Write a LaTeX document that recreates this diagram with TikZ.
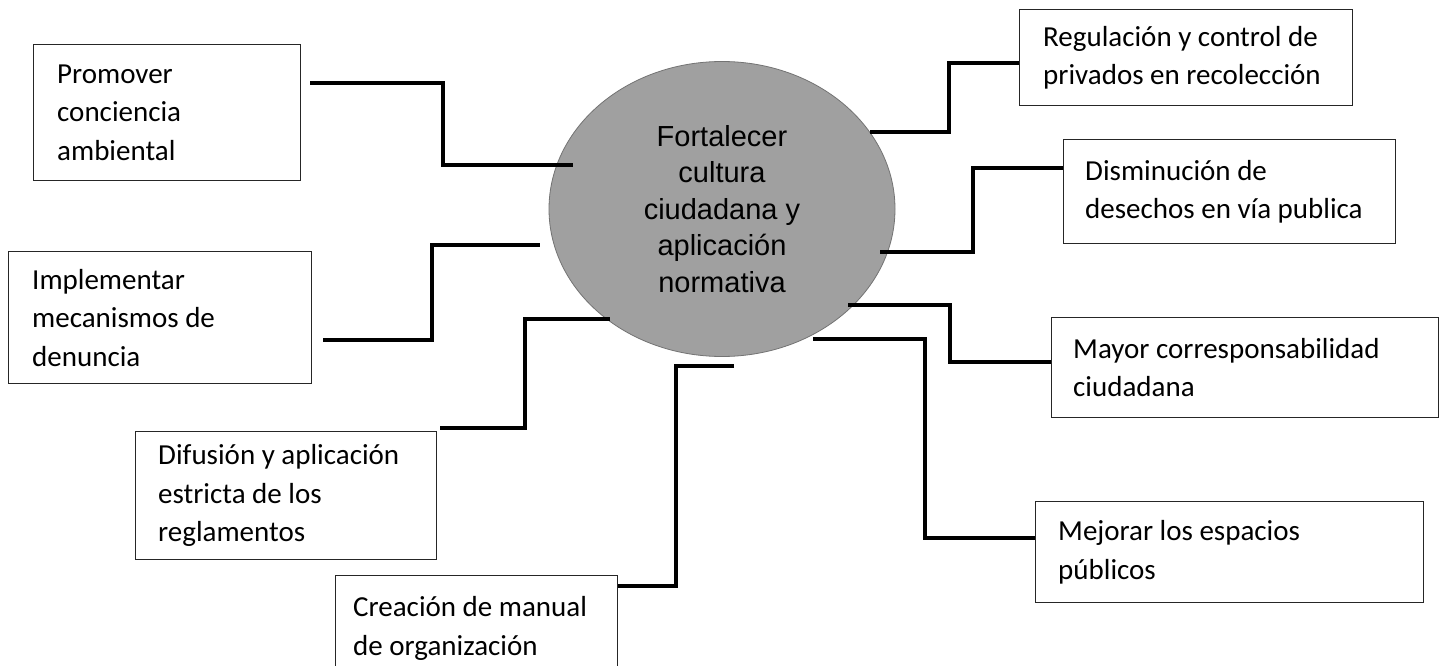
\documentclass[tikz,border=0pt]{standalone}
\usepackage{fontspec}
\setmainfont{Carlito}
\newfontfamily\arialf{Liberation Sans}
\usetikzlibrary{shapes.geometric}
\definecolor{coregray}{RGB}{160,160,160}
\begin{document}
\begin{tikzpicture}[x=1pt,y=-1pt,
  box/.style={rectangle, draw=black!85, line width=1.3pt, fill=white, inner sep=0pt, anchor=north west},
  btext/.style={anchor=west, align=left, inner sep=0pt, font=\fontsize{29}{38.5}\selectfont, text=black},
  conn/.style={line width=3.6pt, draw=black, line join=miter},
  core/.style={ellipse, draw=black!55, line width=0.8pt, fill=coregray, inner sep=0pt, align=center,
    font=\arialf\fontsize{29}{36.5}\selectfont, text=black}]
\useasboundingbox (0,0) rectangle (1444,666);
\clip (0,0) rectangle (1444,666);
\fill[white] (0,0) rectangle (1444,666);

% central ellipse
\node[core, minimum width=346pt, minimum height=295pt] (core) at (722,209)
  {Fortalecer\\cultura\\ciudadana y\\aplicación\\normativa};

% boxes
\node[box, minimum width=267pt, minimum height=136pt] (prom) at (33,44) {};
\node[btext] (promT) at ([xshift=24pt]prom.west) {Promover\\conciencia\\ambiental};

\node[box, minimum width=303pt, minimum height=132pt] (impl) at (8,251) {};
\node[btext] (implT) at ([xshift=24pt]impl.west) {Implementar\\mecanismos de\\denuncia};

\node[box, minimum width=301pt, minimum height=128pt] (dif) at (135,431) {};
\node[btext] (difT) at ([xshift=23pt]dif.west) {Difusión y aplicación\\estricta de los\\reglamentos};

\node[box, minimum width=282pt, minimum height=106pt] (crea) at (335,575) {};
\node[btext] (creaT) at ([xshift=18pt]crea.west) {Creación de manual\\de organización};

\node[box, minimum width=333pt, minimum height=96pt] (reg) at (1019,9) {};
\node[btext] (regT) at ([xshift=24pt]reg.west) {Regulación y control de\\privados en recolección};

\node[box, minimum width=332pt, minimum height=104pt] (dis) at (1063,139) {};
\node[btext] (disT) at ([xshift=22pt]dis.west) {Disminución de\\desechos en vía publica};

\node[box, minimum width=387pt, minimum height=100pt] (may) at (1051,317) {};
\node[btext] (mayT) at ([xshift=22pt]may.west) {Mayor corresponsabilidad\\ciudadana};

\node[box, minimum width=388pt, minimum height=101pt] (mej) at (1035,501) {};
\node[btext] (mejT) at ([xshift=23pt]mej.west) {Mejorar los espacios\\públicos};

% connector end points
\coordinate (c1a) at (310,83);  \coordinate (c1b) at (573,165);
\coordinate (c2a) at (323,340); \coordinate (c2b) at (540,245);
\coordinate (c3a) at (610,319); \coordinate (c3b) at (440,428);
\coordinate (c4a) at (734,366);
\coordinate (c5a) at (813,339);
\coordinate (c6a) at (848,305);
\coordinate (c7a) at (880,252);
\coordinate (c8a) at (870,132);

% connectors
\draw[conn] (c1a) -- ++(133,0) |- (c1b);
\draw[conn] (c2a) -- ++(109,0) |- (c2b);
\draw[conn] (c3a) -- ++(-85,0) |- (c3b);
\draw[conn] (c4a) -- ++(-58,0) |- (crea.east |- 0,586);
\draw[conn] (c5a) -- ++(112,0) |- (mej.west |- 0,538);
\draw[conn] (c6a) -- ++(102,0) |- (may.west |- 0,362);
\draw[conn] (c7a) -- ++(93,0) |- (dis.west |- 0,168);
\draw[conn] (c8a) -- ++(79,0) |- (reg.west |- 0,63);
\end{tikzpicture}
\end{document}
